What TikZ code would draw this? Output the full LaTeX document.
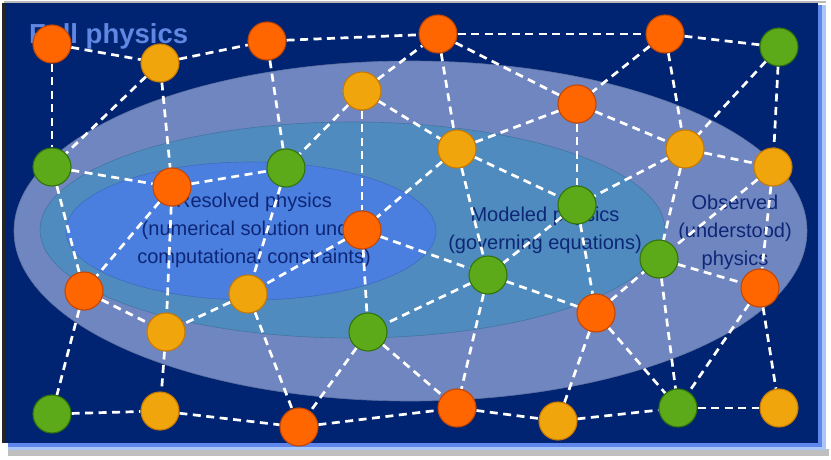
\documentclass[tikz,border=0pt]{standalone}
\usepackage{fontspec}
\setmainfont{Liberation Sans}
\pgfdeclarelayer{back}
\pgfdeclarelayer{links}
\pgfsetlayers{back,links,main}
\definecolor{navy}{RGB}{0,36,114}
\definecolor{outerell}{RGB}{112,134,192}
\definecolor{midell}{RGB}{79,139,191}
\definecolor{innerell}{RGB}{74,127,224}
\definecolor{orfill}{RGB}{255,102,0}
\definecolor{ordraw}{RGB}{196,70,0}
\definecolor{yefill}{RGB}{240,165,12}
\definecolor{yedraw}{RGB}{200,122,0}
\definecolor{grfill}{RGB}{92,170,26}
\definecolor{grdraw}{RGB}{52,115,10}
\definecolor{lbltext}{RGB}{14,38,118}
\definecolor{titletext}{RGB}{96,136,226}
\definecolor{edgeblue}{RGB}{95,135,235}
\definecolor{edgeblue2}{RGB}{170,198,246}
\begin{document}
\begin{tikzpicture}[x=1pt,y=-1pt,
  ball/.style={circle,minimum size=38pt,inner sep=0pt,line width=1.1pt},
  orng/.style={ball,fill=orfill,draw=ordraw},
  yell/.style={ball,fill=yefill,draw=yedraw},
  gren/.style={ball,fill=grfill,draw=grdraw},
  link/.style={draw=white,line width=2.7pt,dash pattern=on 8pt off 5.5pt},
  lbl/.style={text=lbltext,font=\fontsize{20}{28}\selectfont,align=center,inner sep=0pt}]
\useasboundingbox (0,0) rectangle (831,460);
\begin{pgfonlayer}{back}
  \fill[white] (0,0) rectangle (831,460);
  \fill[black!25] (8,449) rectangle (829,456);
  \fill[gray!55] (4,0.8) rectangle (826,3.2);
  \fill[edgeblue2] (8,5) rectangle (826,450);
  \fill[edgeblue] (8,5) rectangle (822,447);
  \fill[black!85] (1.5,3) rectangle (5,443);
  \fill[navy] (5,3) rectangle (818,443);
  \filldraw[fill=outerell,draw=outerell!85!black,line width=0.6pt] (410.5,231) ellipse [x radius=396.5pt, y radius=170pt];
  \filldraw[fill=midell,draw=midell!85!black,line width=0.6pt] (352.5,230) ellipse [x radius=312.5pt, y radius=108pt];
  \filldraw[fill=innerell,draw=innerell!85!black,line width=0.6pt] (251,231) ellipse [x radius=185pt, y radius=69pt];
  \node[anchor=base west,text=titletext,font=\bfseries\fontsize{27.5}{30}\selectfont,inner sep=0pt] (title) at (29,44) {Full physics};
  \node[lbl] (res) at (254,230) {Resolved physics\\(numerical solution under\\computational constraints)};
  \node[lbl] (mod) at (545,230) {Modeled physics\\(governing equations)};
  \node[lbl] (obs) at (735,232) {Observed\\(understood)\\physics};
\end{pgfonlayer}
% nodes
\node[orng] (o1) at (52,44) {};
\node[yell] (y1) at (160,63) {};
\node[orng] (o2) at (267,41) {};
\node[orng] (o3) at (438,34) {};
\node[orng] (o4) at (665,34) {};
\node[gren] (g1) at (779,47) {};
\node[yell] (y2) at (362,91) {};
\node[orng] (o5) at (577,104) {};
\node[gren] (g2) at (52,167) {};
\node[gren] (g3) at (286,168) {};
\node[orng] (o6) at (172,187) {};
\node[yell] (y3) at (457,149) {};
\node[yell] (y4) at (685,149) {};
\node[yell] (y5) at (773,167) {};
\node[gren] (g4) at (577,205) {};
\node[orng] (o7) at (362,230) {};
\node[gren] (g5) at (659,259) {};
\node[orng] (o8) at (760,288) {};
\node[orng] (o9) at (84,291) {};
\node[yell] (y6) at (248,294) {};
\node[gren] (g6) at (488,275) {};
\node[yell] (y7) at (166,332) {};
\node[gren] (g7) at (368,332) {};
\node[orng] (o10) at (596,313) {};
\node[gren] (g8) at (52,414) {};
\node[yell] (y8) at (160,411) {};
\node[orng] (o11) at (299,427) {};
\node[orng] (o12) at (457,408) {};
\node[yell] (y9) at (558,421) {};
\node[gren] (g9) at (678,408) {};
\node[yell] (y10) at (779,408) {};
\begin{pgfonlayer}{links}
\foreach \a/\b in {o1/y1, o1/g2, y1/o2, y1/g2, y1/o6, o2/o3, o2/g3, y2/o3, y2/g3, y2/o7, y2/y3,
  g2/o6, o6/g3, g2/o9, o6/o9, g3/y6, o6/y7,
  o3/o4, o3/o5, o3/y3, o4/o5, o4/g1, o4/y4, g1/y4, g1/y5, o5/y3, o5/g4, o5/y4, y4/y5,
  y3/g4, y3/g6, y3/o7, y4/g4, y4/g5, y5/g5, y5/o8,
  o7/y6, o7/g6, o7/g7, g4/g6, g4/o10, g6/o10, g6/g7, g6/o12,
  y6/y7, y6/o11, o9/y7, o9/g8, y7/y8, g7/o11, g7/o12,
  g8/y8, y8/o11, o11/o12, o10/g5, o10/y9, o10/g9, g5/o8, g5/g9, o8/g9, o8/y10,
  o12/y9, y9/g9, g9/y10}
  \draw[link] (\a) -- (\b);
\end{pgfonlayer}
\end{tikzpicture}
\end{document}
